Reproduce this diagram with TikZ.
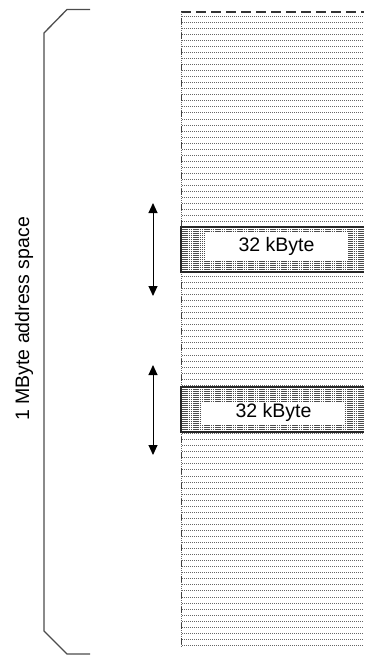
\documentclass[tikz,border=0pt]{standalone}
\usepackage{fontspec}
\setmainfont{Liberation Sans}
\usetikzlibrary{arrows.meta}
\begin{document}
\begin{tikzpicture}[x=1pt,y=-1pt,
  bracketline/.style={draw=black!70, line width=1.3pt, line join=miter},
  gridline/.style={draw=black!60, line width=0.6pt, dash pattern=on 1pt off 1pt},
  topedge/.style={draw=black!80, line width=1.4pt, dash pattern=on 10pt off 5pt},
  sideedge/.style={draw=black!75, line width=1.4pt, dash pattern=on 6pt off 9.5pt},
  denseline/.style={draw=black!70, line width=1.0pt, dash pattern=on 1.5pt off 0.7pt},
  blockedge/.style={draw=black!85, line width=1.1pt},
  blockbox/.style={fill=white, inner sep=0pt, anchor=north west, minimum width=183pt, minimum height=45pt},
  labelbox/.style={fill=white, inner sep=0pt, font=\fontsize{19.5}{22}\selectfont},
  spanlabel/.style={rotate=90, inner sep=0pt, font=\fontsize{19.5}{22}\selectfont},
  sizearrow/.style={draw=black, line width=1pt, {Triangle[length=10pt,width=9pt]}-{Triangle[length=10pt,width=9pt]}},
]
\useasboundingbox (0,0) rectangle (364,655);

% memory column: fine ruled lines
\foreach \i in {0,...,104} {
  \draw[gridline] (182,{16+6.05*\i}) -- (364,{16+6.05*\i});
}
% column edges
\draw[topedge] (181,12) -- (364,12);
\draw[gridline] (181.5,12) -- (181.5,648);
\draw[sideedge] (181.5,18) -- (181.5,648);

% two 32 kByte blocks
\foreach \name/\top in {blkA/227, blkB/387} {
  \node[blockbox] (\name) at (181,\top) {};
  \foreach \k in {1,...,22} {
    \draw[denseline] (182,{\top+2*\k}) -- (364,{\top+2*\k});
  }
  \draw[blockedge] (364,\top) -- (181,\top) -- (181,{\top+45}) -- (364,{\top+45});
}
\node[labelbox, minimum width=143pt, minimum height=27pt] (lblA) at (276.5,246.5) {32 kByte};
\node[labelbox, minimum width=143pt, minimum height=22pt] (lblB) at (273.5,412.5) {32 kByte};

% size arrows beside the blocks
\coordinate (arrAtop) at (153,203);
\coordinate (arrAbot) at (153,296);
\coordinate (arrBtop) at (153,365);
\coordinate (arrBbot) at (153,455);
\draw[sizearrow] (arrAtop) -- (arrAbot);
\draw[sizearrow] (arrBtop) -- (arrBbot);

% bracket for the whole address space
\coordinate (brTopEnd) at (90,9.5);
\coordinate (brBotEnd) at (90,654);
\draw[bracketline] (brTopEnd) -- (67,9.5) -- (44,33) -- (44,631) -- (67,654) -- (brBotEnd);
\node[spanlabel] (span) at (24,319) {1 MByte address space};
\end{tikzpicture}
\end{document}
